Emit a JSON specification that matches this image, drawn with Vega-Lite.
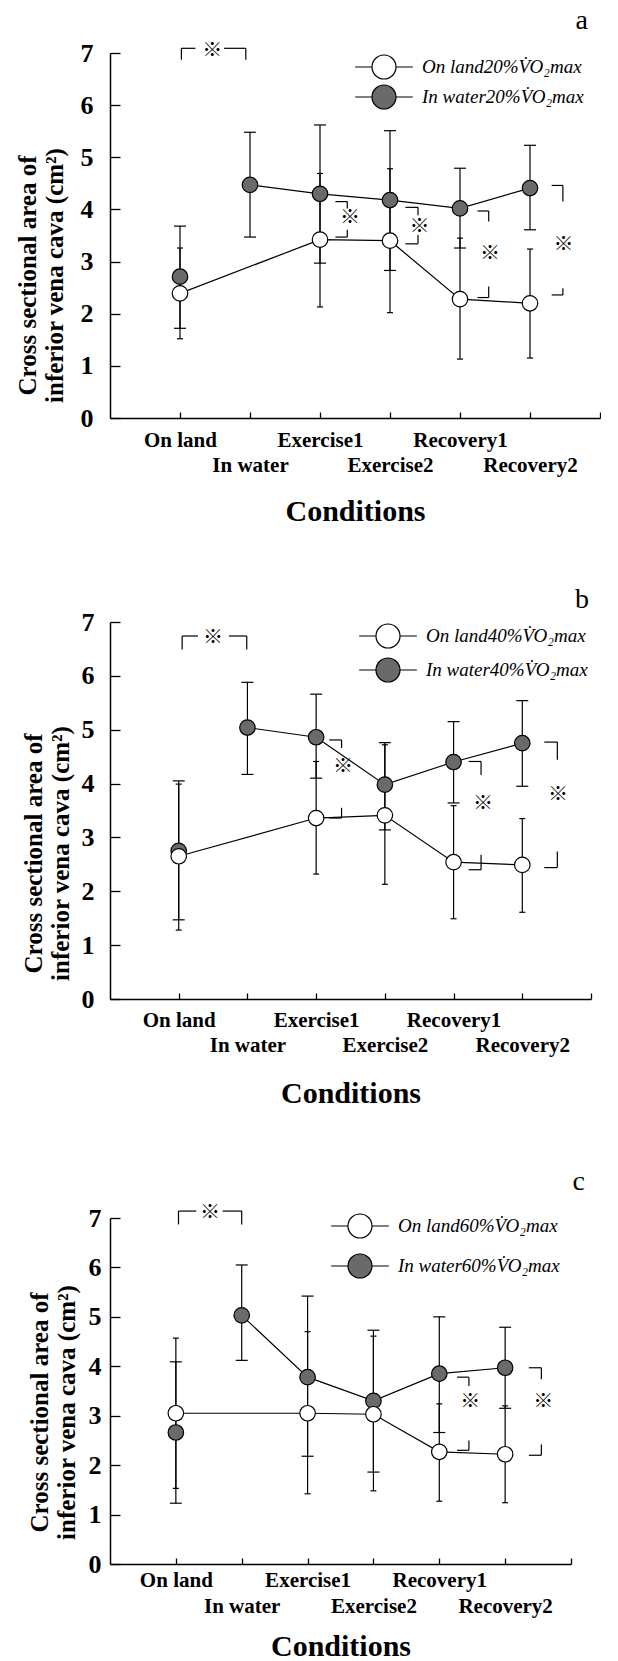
{
  "$schema": "https://vega.github.io/schema/vega-lite/v6.json",
  "background": "white",
  "padding": {"left": 15, "top": 7, "right": 0, "bottom": 0},
  "spacing": 58,
  "config": {
    "view": {"stroke": null},
    "font": "Liberation Serif",
    "legend": {"padding": 0},
    "axisX": {"titleFont": "Liberation Serif", "titleFontSize": 30, "titleFontWeight": "bold", "titleColor": "black", "titleBaseline": "middle",
      "labelFont": "Liberation Serif", "labelFontSize": 21, "labelFontWeight": "bold", "labelColor": "black", "labelBaseline": "top", "labelAlign": "center",
      "labelFlush": false, "labelOverlap": false, "labelBound": false, "tickSize": -6, "tickColor": "black", "tickWidth": 1.3, "domainColor": "black", "domainWidth": 1.5, "grid": false},
    "axisY": {"titleFont": "Liberation Serif", "titleFontSize": 25, "titleFontWeight": "bold", "titleColor": "black", "titleLineHeight": 27, "titleBaseline": "middle", "titleAngle": -90,
      "labelFont": "Liberation Serif", "labelFontSize": 26, "labelFontWeight": "bold", "labelColor": "black", "labelFlush": false,
      "tickSize": -10, "tickColor": "black", "tickWidth": 1.3, "domainColor": "black", "domainWidth": 1.5, "grid": false}
  },
  "resolve": {"scale": {"x": "independent", "y": "independent", "fill": "independent"}, "legend": {"fill": "independent"}},
  "datasets": {
    "a": [
      {"cond": "On land", "i": 0, "group": "water", "series": "In water20%V\u0307O\u2082max", "mean": 2.71, "lo": 1.72, "hi": 3.68},
      {"cond": "In water", "i": 1, "group": "water", "series": "In water20%V\u0307O\u2082max", "mean": 4.47, "lo": 3.47, "hi": 5.48},
      {"cond": "Exercise1", "i": 2, "group": "water", "series": "In water20%V\u0307O\u2082max", "mean": 4.30, "lo": 2.97, "hi": 5.62},
      {"cond": "Exercise2", "i": 3, "group": "water", "series": "In water20%V\u0307O\u2082max", "mean": 4.18, "lo": 2.83, "hi": 5.51},
      {"cond": "Recovery1", "i": 4, "group": "water", "series": "In water20%V\u0307O\u2082max", "mean": 4.02, "lo": 3.26, "hi": 4.79},
      {"cond": "Recovery2", "i": 5, "group": "water", "series": "In water20%V\u0307O\u2082max", "mean": 4.41, "lo": 3.61, "hi": 5.23},
      {"cond": "On land", "i": 0, "group": "land", "series": "On land20%V\u0307O\u2082max", "mean": 2.39, "lo": 1.52, "hi": 3.26},
      {"cond": "Exercise1", "i": 2, "group": "land", "series": "On land20%V\u0307O\u2082max", "mean": 3.42, "lo": 2.13, "hi": 4.69},
      {"cond": "Exercise2", "i": 3, "group": "land", "series": "On land20%V\u0307O\u2082max", "mean": 3.40, "lo": 2.02, "hi": 4.78},
      {"cond": "Recovery1", "i": 4, "group": "land", "series": "On land20%V\u0307O\u2082max", "mean": 2.28, "lo": 1.13, "hi": 3.45},
      {"cond": "Recovery2", "i": 5, "group": "land", "series": "On land20%V\u0307O\u2082max", "mean": 2.20, "lo": 1.15, "hi": 3.24}
    ],
    "b": [
      {"cond": "On land", "i": 0, "group": "water", "series": "In water40%V\u0307O\u2082max", "mean": 2.75, "lo": 1.47, "hi": 4.05},
      {"cond": "In water", "i": 1, "group": "water", "series": "In water40%V\u0307O\u2082max", "mean": 5.04, "lo": 4.17, "hi": 5.88},
      {"cond": "Exercise1", "i": 2, "group": "water", "series": "In water40%V\u0307O\u2082max", "mean": 4.86, "lo": 4.10, "hi": 5.66},
      {"cond": "Exercise2", "i": 3, "group": "water", "series": "In water40%V\u0307O\u2082max", "mean": 3.98, "lo": 3.14, "hi": 4.76},
      {"cond": "Recovery1", "i": 4, "group": "water", "series": "In water40%V\u0307O\u2082max", "mean": 4.40, "lo": 3.64, "hi": 5.15},
      {"cond": "Recovery2", "i": 5, "group": "water", "series": "In water40%V\u0307O\u2082max", "mean": 4.75, "lo": 3.95, "hi": 5.54},
      {"cond": "On land", "i": 0, "group": "land", "series": "On land40%V\u0307O\u2082max", "mean": 2.65, "lo": 1.28, "hi": 3.99},
      {"cond": "Exercise1", "i": 2, "group": "land", "series": "On land40%V\u0307O\u2082max", "mean": 3.36, "lo": 2.32, "hi": 4.41},
      {"cond": "Exercise2", "i": 3, "group": "land", "series": "On land40%V\u0307O\u2082max", "mean": 3.41, "lo": 2.13, "hi": 4.72},
      {"cond": "Recovery1", "i": 4, "group": "land", "series": "On land40%V\u0307O\u2082max", "mean": 2.54, "lo": 1.49, "hi": 3.59},
      {"cond": "Recovery2", "i": 5, "group": "land", "series": "On land40%V\u0307O\u2082max", "mean": 2.49, "lo": 1.61, "hi": 3.35}
    ],
    "c": [
      {"cond": "On land", "i": 0, "group": "water", "series": "In water60%V\u0307O\u2082max", "mean": 2.66, "lo": 1.23, "hi": 4.09},
      {"cond": "In water", "i": 1, "group": "water", "series": "In water60%V\u0307O\u2082max", "mean": 5.03, "lo": 4.12, "hi": 6.05},
      {"cond": "Exercise1", "i": 2, "group": "water", "series": "In water60%V\u0307O\u2082max", "mean": 3.78, "lo": 2.18, "hi": 5.42},
      {"cond": "Exercise2", "i": 3, "group": "water", "series": "In water60%V\u0307O\u2082max", "mean": 3.30, "lo": 1.86, "hi": 4.73},
      {"cond": "Recovery1", "i": 4, "group": "water", "series": "In water60%V\u0307O\u2082max", "mean": 3.85, "lo": 2.66, "hi": 5.00},
      {"cond": "Recovery2", "i": 5, "group": "water", "series": "In water60%V\u0307O\u2082max", "mean": 3.97, "lo": 3.15, "hi": 4.79},
      {"cond": "On land", "i": 0, "group": "land", "series": "On land60%V\u0307O\u2082max", "mean": 3.05, "lo": 1.53, "hi": 4.57},
      {"cond": "Exercise1", "i": 2, "group": "land", "series": "On land60%V\u0307O\u2082max", "mean": 3.05, "lo": 1.42, "hi": 4.70},
      {"cond": "Exercise2", "i": 3, "group": "land", "series": "On land60%V\u0307O\u2082max", "mean": 3.03, "lo": 1.48, "hi": 4.61},
      {"cond": "Recovery1", "i": 4, "group": "land", "series": "On land60%V\u0307O\u2082max", "mean": 2.27, "lo": 1.27, "hi": 3.24},
      {"cond": "Recovery2", "i": 5, "group": "land", "series": "On land60%V\u0307O\u2082max", "mean": 2.22, "lo": 1.24, "hi": 3.20}
    ],
    "sa": [
      {"i": 0.02, "i2": 0.02, "y": 6.87, "y2": 7.09}, {"i": 0.02, "i2": 0.22, "y": 7.09, "y2": 7.09},
      {"i": 0.63, "i2": 0.94, "y": 7.09, "y2": 7.09}, {"i": 0.94, "i2": 0.94, "y": 7.09, "y2": 6.87},
      {"i": 2.22, "i2": 2.39, "y": 4.15, "y2": 4.15}, {"i": 2.39, "i2": 2.39, "y": 4.15, "y2": 4.02},
      {"i": 2.39, "i2": 2.39, "y": 3.61, "y2": 3.47}, {"i": 2.22, "i2": 2.39, "y": 3.47, "y2": 3.47},
      {"i": 3.22, "i2": 3.40, "y": 4.04, "y2": 4.04}, {"i": 3.40, "i2": 3.40, "y": 4.04, "y2": 3.89},
      {"i": 3.40, "i2": 3.40, "y": 3.51, "y2": 3.34}, {"i": 3.22, "i2": 3.40, "y": 3.34, "y2": 3.34},
      {"i": 4.25, "i2": 4.41, "y": 3.97, "y2": 3.97}, {"i": 4.41, "i2": 4.41, "y": 3.97, "y2": 3.77},
      {"i": 4.41, "i2": 4.41, "y": 2.52, "y2": 2.31}, {"i": 4.25, "i2": 4.41, "y": 2.31, "y2": 2.31},
      {"i": 5.31, "i2": 5.47, "y": 4.46, "y2": 4.46}, {"i": 5.47, "i2": 5.47, "y": 4.46, "y2": 4.15},
      {"i": 5.47, "i2": 5.47, "y": 2.49, "y2": 2.36}, {"i": 5.31, "i2": 5.47, "y": 2.36, "y2": 2.36}
    ],
    "ka": [
      {"i": 0.46, "y": 7.04}, {"i": 2.43, "y": 3.83}, {"i": 3.42, "y": 3.66}, {"i": 4.43, "y": 3.15}, {"i": 5.48, "y": 3.32}
    ],
    "sb": [
      {"i": 0.05, "i2": 0.05, "y": 6.49, "y2": 6.74}, {"i": 0.05, "i2": 0.28, "y": 6.74, "y2": 6.74},
      {"i": 0.73, "i2": 0.99, "y": 6.74, "y2": 6.74}, {"i": 0.99, "i2": 0.99, "y": 6.74, "y2": 6.49},
      {"i": 2.19, "i2": 2.37, "y": 4.81, "y2": 4.81}, {"i": 2.37, "i2": 2.37, "y": 4.81, "y2": 4.66},
      {"i": 2.37, "i2": 2.37, "y": 3.55, "y2": 3.36}, {"i": 2.19, "i2": 2.37, "y": 3.36, "y2": 3.36},
      {"i": 4.22, "i2": 4.40, "y": 4.41, "y2": 4.41}, {"i": 4.40, "i2": 4.40, "y": 4.41, "y2": 4.16},
      {"i": 4.40, "i2": 4.40, "y": 2.68, "y2": 2.40}, {"i": 4.22, "i2": 4.40, "y": 2.40, "y2": 2.40},
      {"i": 5.32, "i2": 5.51, "y": 4.77, "y2": 4.77}, {"i": 5.51, "i2": 5.51, "y": 4.77, "y2": 4.44},
      {"i": 5.51, "i2": 5.51, "y": 2.74, "y2": 2.44}, {"i": 5.32, "i2": 5.51, "y": 2.44, "y2": 2.44}
    ],
    "kb": [
      {"i": 0.50, "y": 6.70}, {"i": 2.39, "y": 4.30}, {"i": 4.43, "y": 3.62}, {"i": 5.52, "y": 3.79}
    ],
    "sc": [
      {"i": 0.04, "i2": 0.04, "y": 6.87, "y2": 7.14}, {"i": 0.04, "i2": 0.31, "y": 7.14, "y2": 7.14},
      {"i": 0.71, "i2": 1.0, "y": 7.14, "y2": 7.14}, {"i": 1.0, "i2": 1.0, "y": 7.14, "y2": 6.87},
      {"i": 4.27, "i2": 4.45, "y": 3.78, "y2": 3.78}, {"i": 4.45, "i2": 4.45, "y": 3.78, "y2": 3.60},
      {"i": 4.45, "i2": 4.45, "y": 2.50, "y2": 2.30}, {"i": 4.27, "i2": 4.45, "y": 2.30, "y2": 2.30},
      {"i": 5.36, "i2": 5.55, "y": 3.97, "y2": 3.97}, {"i": 5.55, "i2": 5.55, "y": 3.97, "y2": 3.74},
      {"i": 5.55, "i2": 5.55, "y": 2.42, "y2": 2.20}, {"i": 5.36, "i2": 5.55, "y": 2.20, "y2": 2.20}
    ],
    "kc": [
      {"i": 0.52, "y": 7.10}, {"i": 4.47, "y": 3.28}, {"i": 5.58, "y": 3.28}
    ]
  },
  "vconcat": [
    {
      "width": 490, "height": 365,
      "title": {"text": "a", "anchor": "end", "frame": "group", "font": "Liberation Serif", "fontSize": 28, "fontWeight": "normal", "color": "black", "baseline": "alphabetic", "offset": -17, "dx": -12},
      "encoding": {
        "x": {"field": "i", "type": "quantitative", "scale": {"domain": [-1, 6], "nice": false, "zero": false},
          "axis": {"values": [0, 1, 2, 3, 4, 5, 6], "labelExpr": "datum.value == 0 ? 'On land' : datum.value == 1 ? ['', 'In water'] : datum.value == 2 ? 'Exercise1' : datum.value == 3 ? ['', 'Exercise2'] : datum.value == 4 ? 'Recovery1' : datum.value == 5 ? ['', 'Recovery2'] : ''",
            "title": "Conditions", "titleY": 93.5, "labelLineHeight": 25, "labelPadding": 17.5}}
      },
      "layer": [
        {"data": {"name": "a"}, "transform": [{"filter": "datum.group == 'land' || datum.i > 0"}], "mark": {"type": "line", "color": "black", "strokeWidth": 1.2},
          "encoding": {"detail": {"field": "group"}, "y": {"field": "mean", "type": "quantitative", "scale": {"domain": [0, 7], "nice": false, "zero": false}, "axis": {"values": [0, 1, 2, 3, 4, 5, 6, 7], "title": ["Cross sectional area of", "\u00a0\u00a0\u00a0\u00a0\u00a0\u00a0\u00a0\u00a0\u00a0\u00a0\u00a0\u00a0\u00a0\u00a0\u00a0\u00a0\u00a0\u00a0\u00a0\u00a0inferior vena cava (cm\u00b2)"], "titleX": -83, "titleY": 222, "labelPadding": 27}}}},
        {"data": {"name": "a"}, "mark": {"type": "rule", "color": "black", "strokeWidth": 1.2},
          "encoding": {"y": {"field": "lo", "type": "quantitative", "scale": {"domain": [0, 7], "nice": false, "zero": false}, "axis": {"values": [0, 1, 2, 3, 4, 5, 6, 7], "title": ["Cross sectional area of", "\u00a0\u00a0\u00a0\u00a0\u00a0\u00a0\u00a0\u00a0\u00a0\u00a0\u00a0\u00a0\u00a0\u00a0\u00a0\u00a0\u00a0\u00a0\u00a0\u00a0inferior vena cava (cm\u00b2)"], "titleX": -83, "titleY": 222, "labelPadding": 27}}, "y2": {"field": "hi"}}},
        {"data": {"name": "a"}, "transform": [{"fold": ["lo", "hi"], "as": ["end", "v"]}], "mark": {"type": "tick", "orient": "horizontal", "color": "black", "thickness": 1.2, "opacity": 1},
          "encoding": {"y": {"field": "v", "type": "quantitative", "scale": {"domain": [0, 7], "nice": false, "zero": false}, "axis": {"values": [0, 1, 2, 3, 4, 5, 6, 7], "title": ["Cross sectional area of", "\u00a0\u00a0\u00a0\u00a0\u00a0\u00a0\u00a0\u00a0\u00a0\u00a0\u00a0\u00a0\u00a0\u00a0\u00a0\u00a0\u00a0\u00a0\u00a0\u00a0inferior vena cava (cm\u00b2)"], "titleX": -83, "titleY": 222, "labelPadding": 27}}, "size": {"condition": {"test": "datum.group == 'water'", "value": 12}, "value": 6}}},
        {"data": {"name": "sa"}, "mark": {"type": "rule", "color": "black", "strokeWidth": 1.2},
          "encoding": {"x2": {"field": "i2"}, "y": {"field": "y", "type": "quantitative", "scale": {"domain": [0, 7], "nice": false, "zero": false}, "axis": {"values": [0, 1, 2, 3, 4, 5, 6, 7], "title": ["Cross sectional area of", "\u00a0\u00a0\u00a0\u00a0\u00a0\u00a0\u00a0\u00a0\u00a0\u00a0\u00a0\u00a0\u00a0\u00a0\u00a0\u00a0\u00a0\u00a0\u00a0\u00a0inferior vena cava (cm\u00b2)"], "titleX": -83, "titleY": 222, "labelPadding": 27}}, "y2": {"field": "y2"}}},
        {"data": {"name": "ka"}, "mark": {"type": "text", "text": "※", "font": "Noto Sans CJK JP", "fontSize": 20, "baseline": "middle", "align": "center", "color": "black"},
          "encoding": {"y": {"field": "y", "type": "quantitative", "scale": {"domain": [0, 7], "nice": false, "zero": false}, "axis": {"values": [0, 1, 2, 3, 4, 5, 6, 7], "title": ["Cross sectional area of", "\u00a0\u00a0\u00a0\u00a0\u00a0\u00a0\u00a0\u00a0\u00a0\u00a0\u00a0\u00a0\u00a0\u00a0\u00a0\u00a0\u00a0\u00a0\u00a0\u00a0inferior vena cava (cm\u00b2)"], "titleX": -83, "titleY": 222, "labelPadding": 27}}}},
        {"data": {"name": "a"}, "mark": {"type": "point", "shape": "circle", "filled": true, "size": 240, "stroke": "black", "strokeWidth": 1.2, "opacity": 1},
          "encoding": {"y": {"field": "mean", "type": "quantitative", "scale": {"domain": [0, 7], "nice": false, "zero": false}, "axis": {"values": [0, 1, 2, 3, 4, 5, 6, 7], "title": ["Cross sectional area of", "\u00a0\u00a0\u00a0\u00a0\u00a0\u00a0\u00a0\u00a0\u00a0\u00a0\u00a0\u00a0\u00a0\u00a0\u00a0\u00a0\u00a0\u00a0\u00a0\u00a0inferior vena cava (cm\u00b2)"], "titleX": -83, "titleY": 222, "labelPadding": 27}},
            "fill": {"field": "series", "type": "nominal", "sort": "descending", "scale": {"range": ["#ffffff", "#6a6a6a"]},
            "legend": {"title": null, "orient": "none", "legendX": 261, "legendY": 1, "symbolType": "M-2.4,0L-1,0M1,0L2.4,0M1,0A1,1,0,1,1,-1,0A1,1,0,1,1,1,0Z", "symbolSize": 576, "symbolStrokeColor": "black", "symbolStrokeWidth": 1.2, "symbolOpacity": 1,
              "labelFont": "Liberation Serif", "labelFontStyle": "italic", "labelFontSize": 19, "labelColor": "black", "labelOffset": 25, "labelLimit": 400, "rowPadding": 0}}}}
      ]
    },
    {
      "width": 481, "height": 377,
      "title": {"text": "b", "anchor": "end", "frame": "group", "font": "Liberation Serif", "fontSize": 28, "fontWeight": "normal", "color": "black", "baseline": "alphabetic", "offset": -26.5, "dx": -2},
      "encoding": {
        "x": {"field": "i", "type": "quantitative", "scale": {"domain": [-1, 6], "nice": false, "zero": false},
          "axis": {"values": [0, 1, 2, 3, 4, 5, 6], "labelExpr": "datum.value == 0 ? 'On land' : datum.value == 1 ? ['', 'In water'] : datum.value == 2 ? 'Exercise1' : datum.value == 3 ? ['', 'Exercise2'] : datum.value == 4 ? 'Recovery1' : datum.value == 5 ? ['', 'Recovery2'] : ''",
            "title": "Conditions", "titleY": 94.5, "labelLineHeight": 25, "labelPadding": 16}}
      },
      "layer": [
        {"data": {"name": "b"}, "transform": [{"filter": "datum.group == 'land' || datum.i > 0"}], "mark": {"type": "line", "color": "black", "strokeWidth": 1.2},
          "encoding": {"detail": {"field": "group"}, "y": {"field": "mean", "type": "quantitative", "scale": {"domain": [0, 7], "nice": false, "zero": false}, "axis": {"values": [0, 1, 2, 3, 4, 5, 6, 7], "title": ["Cross sectional area of", "\u00a0\u00a0\u00a0\u00a0\u00a0\u00a0\u00a0\u00a0\u00a0\u00a0\u00a0\u00a0\u00a0\u00a0\u00a0\u00a0\u00a0\u00a0\u00a0\u00a0\u00a0inferior vena cava (cm\u00b2)"], "titleX": -77, "titleY": 231, "labelPadding": 26}}}},
        {"data": {"name": "b"}, "mark": {"type": "rule", "color": "black", "strokeWidth": 1.2},
          "encoding": {"y": {"field": "lo", "type": "quantitative", "scale": {"domain": [0, 7], "nice": false, "zero": false}, "axis": {"values": [0, 1, 2, 3, 4, 5, 6, 7], "title": ["Cross sectional area of", "\u00a0\u00a0\u00a0\u00a0\u00a0\u00a0\u00a0\u00a0\u00a0\u00a0\u00a0\u00a0\u00a0\u00a0\u00a0\u00a0\u00a0\u00a0\u00a0\u00a0\u00a0inferior vena cava (cm\u00b2)"], "titleX": -77, "titleY": 231, "labelPadding": 26}}, "y2": {"field": "hi"}}},
        {"data": {"name": "b"}, "transform": [{"fold": ["lo", "hi"], "as": ["end", "v"]}], "mark": {"type": "tick", "orient": "horizontal", "color": "black", "thickness": 1.2, "opacity": 1},
          "encoding": {"y": {"field": "v", "type": "quantitative", "scale": {"domain": [0, 7], "nice": false, "zero": false}, "axis": {"values": [0, 1, 2, 3, 4, 5, 6, 7], "title": ["Cross sectional area of", "\u00a0\u00a0\u00a0\u00a0\u00a0\u00a0\u00a0\u00a0\u00a0\u00a0\u00a0\u00a0\u00a0\u00a0\u00a0\u00a0\u00a0\u00a0\u00a0\u00a0\u00a0inferior vena cava (cm\u00b2)"], "titleX": -77, "titleY": 231, "labelPadding": 26}}, "size": {"condition": {"test": "datum.group == 'water'", "value": 12}, "value": 6}}},
        {"data": {"name": "sb"}, "mark": {"type": "rule", "color": "black", "strokeWidth": 1.2},
          "encoding": {"x2": {"field": "i2"}, "y": {"field": "y", "type": "quantitative", "scale": {"domain": [0, 7], "nice": false, "zero": false}, "axis": {"values": [0, 1, 2, 3, 4, 5, 6, 7], "title": ["Cross sectional area of", "\u00a0\u00a0\u00a0\u00a0\u00a0\u00a0\u00a0\u00a0\u00a0\u00a0\u00a0\u00a0\u00a0\u00a0\u00a0\u00a0\u00a0\u00a0\u00a0\u00a0\u00a0inferior vena cava (cm\u00b2)"], "titleX": -77, "titleY": 231, "labelPadding": 26}}, "y2": {"field": "y2"}}},
        {"data": {"name": "kb"}, "mark": {"type": "text", "text": "※", "font": "Noto Sans CJK JP", "fontSize": 20, "baseline": "middle", "align": "center", "color": "black"},
          "encoding": {"y": {"field": "y", "type": "quantitative", "scale": {"domain": [0, 7], "nice": false, "zero": false}, "axis": {"values": [0, 1, 2, 3, 4, 5, 6, 7], "title": ["Cross sectional area of", "\u00a0\u00a0\u00a0\u00a0\u00a0\u00a0\u00a0\u00a0\u00a0\u00a0\u00a0\u00a0\u00a0\u00a0\u00a0\u00a0\u00a0\u00a0\u00a0\u00a0\u00a0inferior vena cava (cm\u00b2)"], "titleX": -77, "titleY": 231, "labelPadding": 26}}}},
        {"data": {"name": "b"}, "mark": {"type": "point", "shape": "circle", "filled": true, "size": 240, "stroke": "black", "strokeWidth": 1.2, "opacity": 1},
          "encoding": {"y": {"field": "mean", "type": "quantitative", "scale": {"domain": [0, 7], "nice": false, "zero": false}, "axis": {"values": [0, 1, 2, 3, 4, 5, 6, 7], "title": ["Cross sectional area of", "\u00a0\u00a0\u00a0\u00a0\u00a0\u00a0\u00a0\u00a0\u00a0\u00a0\u00a0\u00a0\u00a0\u00a0\u00a0\u00a0\u00a0\u00a0\u00a0\u00a0\u00a0inferior vena cava (cm\u00b2)"], "titleX": -77, "titleY": 231, "labelPadding": 26}},
            "fill": {"field": "series", "type": "nominal", "sort": "descending", "scale": {"range": ["#ffffff", "#6a6a6a"]},
            "legend": {"title": null, "orient": "none", "legendX": 265, "legendY": 1, "symbolType": "M-2.4,0L-1,0M1,0L2.4,0M1,0A1,1,0,1,1,-1,0A1,1,0,1,1,1,0Z", "symbolSize": 576, "symbolStrokeColor": "black", "symbolStrokeWidth": 1.2, "symbolOpacity": 1,
              "labelFont": "Liberation Serif", "labelFontStyle": "italic", "labelFontSize": 19, "labelColor": "black", "labelOffset": 25, "labelLimit": 400, "rowPadding": 4}}}}
      ]
    },
    {
      "width": 461, "height": 346,
      "title": {"text": "c", "anchor": "end", "frame": "group", "font": "Liberation Serif", "fontSize": 28, "fontWeight": "normal", "color": "black", "baseline": "alphabetic", "offset": -14.5, "dx": 14},
      "encoding": {
        "x": {"field": "i", "type": "quantitative", "scale": {"domain": [-1, 6], "nice": false, "zero": false},
          "axis": {"values": [0, 1, 2, 3, 4, 5, 6], "labelExpr": "datum.value == 0 ? 'On land' : datum.value == 1 ? ['', 'In water'] : datum.value == 2 ? 'Exercise1' : datum.value == 3 ? ['', 'Exercise2'] : datum.value == 4 ? 'Recovery1' : datum.value == 5 ? ['', 'Recovery2'] : ''",
            "title": "Conditions", "titleY": 82, "labelLineHeight": 26, "labelPadding": 11.5}}
      },
      "layer": [
        {"data": {"name": "c"}, "transform": [{"filter": "datum.group == 'land' || datum.i > 0"}], "mark": {"type": "line", "color": "black", "strokeWidth": 1.2},
          "encoding": {"detail": {"field": "group"}, "y": {"field": "mean", "type": "quantitative", "scale": {"domain": [0, 7], "nice": false, "zero": false}, "axis": {"values": [0, 1, 2, 3, 4, 5, 6, 7], "title": ["Cross sectional area of", "\u00a0\u00a0\u00a0\u00a0\u00a0\u00a0\u00a0\u00a0\u00a0\u00a0\u00a0\u00a0\u00a0\u00a0\u00a0\u00a0\u00a0\u00a0inferior vena cava (cm\u00b2)"], "titleX": -71, "titleY": 194, "labelPadding": 19}}}},
        {"data": {"name": "c"}, "mark": {"type": "rule", "color": "black", "strokeWidth": 1.2},
          "encoding": {"y": {"field": "lo", "type": "quantitative", "scale": {"domain": [0, 7], "nice": false, "zero": false}, "axis": {"values": [0, 1, 2, 3, 4, 5, 6, 7], "title": ["Cross sectional area of", "\u00a0\u00a0\u00a0\u00a0\u00a0\u00a0\u00a0\u00a0\u00a0\u00a0\u00a0\u00a0\u00a0\u00a0\u00a0\u00a0\u00a0\u00a0inferior vena cava (cm\u00b2)"], "titleX": -71, "titleY": 194, "labelPadding": 19}}, "y2": {"field": "hi"}}},
        {"data": {"name": "c"}, "transform": [{"fold": ["lo", "hi"], "as": ["end", "v"]}], "mark": {"type": "tick", "orient": "horizontal", "color": "black", "thickness": 1.2, "opacity": 1},
          "encoding": {"y": {"field": "v", "type": "quantitative", "scale": {"domain": [0, 7], "nice": false, "zero": false}, "axis": {"values": [0, 1, 2, 3, 4, 5, 6, 7], "title": ["Cross sectional area of", "\u00a0\u00a0\u00a0\u00a0\u00a0\u00a0\u00a0\u00a0\u00a0\u00a0\u00a0\u00a0\u00a0\u00a0\u00a0\u00a0\u00a0\u00a0inferior vena cava (cm\u00b2)"], "titleX": -71, "titleY": 194, "labelPadding": 19}}, "size": {"condition": {"test": "datum.group == 'water'", "value": 12}, "value": 6}}},
        {"data": {"name": "sc"}, "mark": {"type": "rule", "color": "black", "strokeWidth": 1.2},
          "encoding": {"x2": {"field": "i2"}, "y": {"field": "y", "type": "quantitative", "scale": {"domain": [0, 7], "nice": false, "zero": false}, "axis": {"values": [0, 1, 2, 3, 4, 5, 6, 7], "title": ["Cross sectional area of", "\u00a0\u00a0\u00a0\u00a0\u00a0\u00a0\u00a0\u00a0\u00a0\u00a0\u00a0\u00a0\u00a0\u00a0\u00a0\u00a0\u00a0\u00a0inferior vena cava (cm\u00b2)"], "titleX": -71, "titleY": 194, "labelPadding": 19}}, "y2": {"field": "y2"}}},
        {"data": {"name": "kc"}, "mark": {"type": "text", "text": "※", "font": "Noto Sans CJK JP", "fontSize": 20, "baseline": "middle", "align": "center", "color": "black"},
          "encoding": {"y": {"field": "y", "type": "quantitative", "scale": {"domain": [0, 7], "nice": false, "zero": false}, "axis": {"values": [0, 1, 2, 3, 4, 5, 6, 7], "title": ["Cross sectional area of", "\u00a0\u00a0\u00a0\u00a0\u00a0\u00a0\u00a0\u00a0\u00a0\u00a0\u00a0\u00a0\u00a0\u00a0\u00a0\u00a0\u00a0\u00a0inferior vena cava (cm\u00b2)"], "titleX": -71, "titleY": 194, "labelPadding": 19}}}},
        {"data": {"name": "c"}, "mark": {"type": "point", "shape": "circle", "filled": true, "size": 240, "stroke": "black", "strokeWidth": 1.2, "opacity": 1},
          "encoding": {"y": {"field": "mean", "type": "quantitative", "scale": {"domain": [0, 7], "nice": false, "zero": false}, "axis": {"values": [0, 1, 2, 3, 4, 5, 6, 7], "title": ["Cross sectional area of", "\u00a0\u00a0\u00a0\u00a0\u00a0\u00a0\u00a0\u00a0\u00a0\u00a0\u00a0\u00a0\u00a0\u00a0\u00a0\u00a0\u00a0\u00a0inferior vena cava (cm\u00b2)"], "titleX": -71, "titleY": 194, "labelPadding": 19}},
            "fill": {"field": "series", "type": "nominal", "sort": "descending", "scale": {"range": ["#ffffff", "#6a6a6a"]},
            "legend": {"title": null, "orient": "none", "legendX": 237, "legendY": -5, "symbolType": "M-2.4,0L-1,0M1,0L2.4,0M1,0A1,1,0,1,1,-1,0A1,1,0,1,1,1,0Z", "symbolSize": 576, "symbolStrokeColor": "black", "symbolStrokeWidth": 1.2, "symbolOpacity": 1,
              "labelFont": "Liberation Serif", "labelFontStyle": "italic", "labelFontSize": 19, "labelColor": "black", "labelOffset": 25, "labelLimit": 400, "rowPadding": 10}}}}
      ]
    }
  ]
}
